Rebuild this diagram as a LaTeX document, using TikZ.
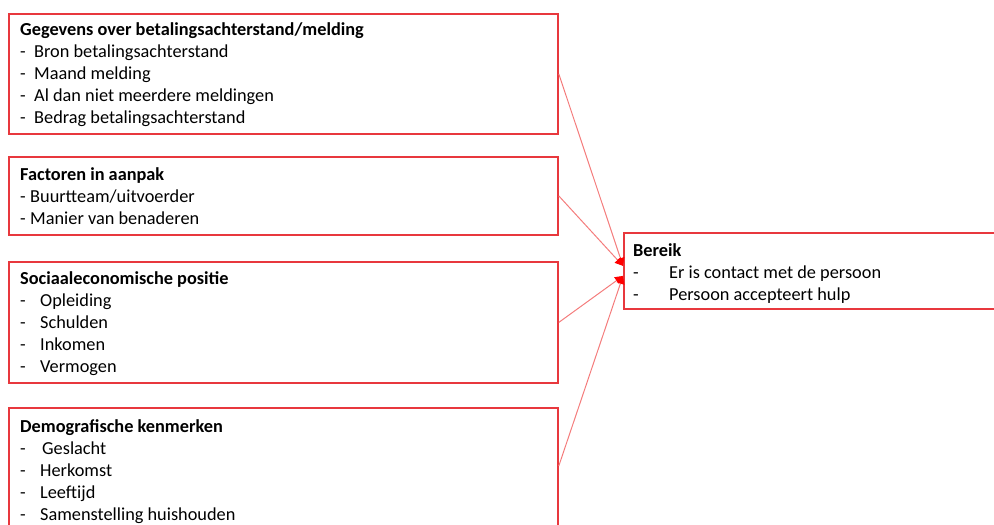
\documentclass[tikz,border=0pt]{standalone}
\usepackage{fontspec}
\setmainfont{Carlito}
\usetikzlibrary{arrows.meta}
\definecolor{boxred}{HTML}{E8383D}
\definecolor{linered}{HTML}{F47C7C}
\tikzset{
  box/.style={draw=boxred, line width=1.8pt, rectangle, inner sep=0pt, anchor=north west},
  txt/.style={anchor=north west, align=left, inner sep=0pt, font=\fontsize{18.3}{22}\selectfont},
  conn/.style={draw=linered, line width=1pt, -{Triangle[length=8pt,width=8pt,fill=red,color=red]}},
}
\newcommand{\itm}[2]{\makebox[#1][l]{-}#2}
\begin{document}
\begin{tikzpicture}[x=1pt,y=1pt]
\useasboundingbox (0,0) rectangle (994,-525);
\node[box, minimum width=549, minimum height=120] (b1) at (8,-13) {};
\node[box, minimum width=549, minimum height=78] (b2) at (8,-156) {};
\node[box, minimum width=549, minimum height=121] (b3) at (8,-261) {};
\node[box, minimum width=549, minimum height=122] (b4) at (8,-407) {};
\node[box, minimum width=400, minimum height=76] (r) at (623,-232) {};

\node[txt] (t1) at (20,-22) {\textbf{Gegevens over betalingsachterstand/melding}\\
\itm{14pt}{Bron betalingsachterstand}\\
\itm{14pt}{Maand melding}\\
\itm{14pt}{Al dan niet meerdere meldingen}\\
\itm{14pt}{Bedrag betalingsachterstand}};
\node[txt] (t2) at (20,-167) {\textbf{Factoren in aanpak}\\
\itm{10pt}{Buurtteam/uitvoerder}\\
\itm{10pt}{Manier van benaderen}};
\node[txt] (t3) at (20,-271) {\textbf{Sociaaleconomische positie}\\
\itm{20pt}{Opleiding}\\
\itm{20pt}{Schulden}\\
\itm{20pt}{Inkomen}\\
\itm{20pt}{Vermogen}};
\node[txt] (t4) at (20,-419) {\textbf{Demografische kenmerken}\\
\itm{22pt}{Geslacht}\\
\itm{20pt}{Herkomst}\\
\itm{20pt}{Leeftijd}\\
\itm{20pt}{Samenstelling huishouden}};
\node[txt] (tr) at (633,-243) {\textbf{Bereik}\\
\itm{36pt}{Er is contact met de persoon}\\
\itm{36pt}{Persoon accepteert hulp}};

\coordinate (in1) at ([yshift=5pt]r.west);
\coordinate (in2) at ([yshift=-5pt]r.west);
\coordinate (o4) at ([yshift=3pt]b4.east);
\draw[conn] (b1.east) -- (in1);
\draw[conn] (b2.east) -- (in1);
\draw[conn] (b3.east) -- (in2);
\draw[conn] (o4) -- (in2);
\end{tikzpicture}
\end{document}
